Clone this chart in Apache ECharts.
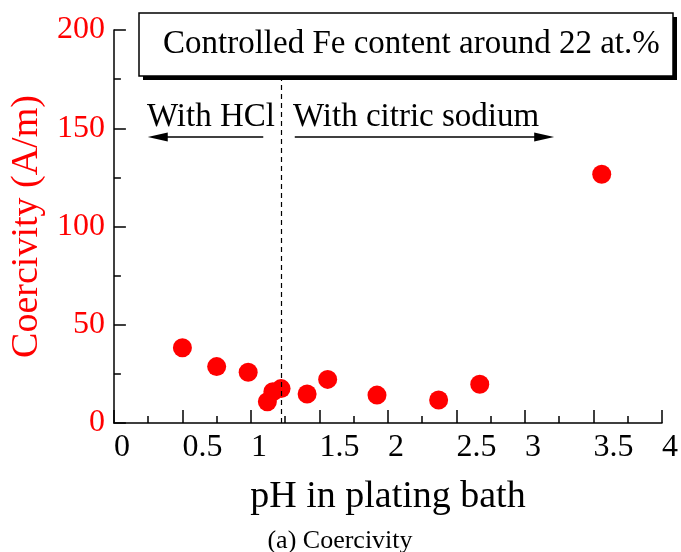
<!DOCTYPE html>
<html>
<head>
<meta charset="utf-8">
<script src="https://cdn.jsdelivr.net/npm/echarts@6/dist/echarts.min.js"></script>
<style>
  html, body { margin: 0; padding: 0; background: #fff; }
  #chart { width: 681px; height: 552px; }
</style>
</head>
<body>
<div id="chart"></div>
<script>
// pH 値と保磁力
const phValues = [0.5, 0.75, 0.98, 1.12, 1.16, 1.22, 1.41, 1.56, 1.92, 2.37, 2.67, 3.56]
const coercivity = [38.3, 28.7, 25.8, 10.8, 15.9, 17.5, 14.8, 22.2, 14.2, 11.7, 19.7, 126.6]

const xTicks = [0, 0.5, 1, 1.5, 2, 2.5, 3, 3.5, 4]
const yTicks = [0, 50, 100, 150, 200]

// 区切り線と矢印 (データ座標)
const boundaryPH = 1.22
const arrowY = 145.5
const hclArrow = [1.09, 0.32]
const citricArrow = [1.32, 3.14]

const serif = "Liberation Serif"

const chart = echarts.init(document.getElementById("chart"))

function label(text, x, y, size, extra) {
  return {
    type: "text",
    z: 12,
    x: x,
    y: y,
    style: Object.assign({
      text: text,
      fontFamily: serif,
      fontSize: size,
      fill: "#000",
      verticalAlign: "middle"
    }, extra || {})
  }
}

const option = {
  animation: false,
  grid: {
    left: 111,
    right: 18,
    top: 30,
    bottom: 129
  },
  xAxis: {
    type: "value",
    min: 0,
    max: 4,
    interval: 0.5,
    name: "pH in plating bath",
    nameLocation: "middle",
    nameGap: 55,
    nameTextStyle: { fontFamily: serif, fontSize: 38, color: "#000" },
    axisLine: { lineStyle: { color: "#000", width: 1.5 } },
    axisTick: { inside: true, length: 13, lineStyle: { color: "#000", width: 1.5 } },
    minorTick: { show: true, splitNumber: 2, length: 7, lineStyle: { color: "#000", width: 1.5 } },
    axisLabel: {
      fontFamily: serif,
      fontSize: 32,
      color: "#000",
      align: "left",
      margin: 9,
      formatter: v => (xTicks.includes(v) ? String(v) : "")
    },
    splitLine: { show: false }
  },
  yAxis: {
    type: "value",
    min: 0,
    max: 200,
    interval: 50,
    name: "Coercivity (A/m)",
    nameLocation: "middle",
    nameGap: 62,
    nameTextStyle: { fontFamily: serif, fontSize: 38, color: "#ff0000" },
    axisLine: { show: true, lineStyle: { color: "#000", width: 1.5 } },
    axisTick: { inside: true, length: 12, lineStyle: { color: "#000", width: 1.5 } },
    minorTick: { show: true, splitNumber: 2, length: 7, lineStyle: { color: "#000", width: 1.5 } },
    axisLabel: {
      fontFamily: serif,
      fontSize: 32,
      color: "#ff0000",
      margin: 9,
      formatter: v => (yTicks.includes(v) ? String(v) : "")
    },
    splitLine: { show: false }
  },
  series: [
    {
      type: "scatter",
      data: phValues.map((x, i) => [x, coercivity[i]]),
      symbol: "circle",
      symbolSize: 19,
      itemStyle: { color: "#ff0000", opacity: 1 },
      z: 3
    },
    {
      // 区切り線と矢印
      type: "line",
      data: [],
      markLine: {
        silent: true,
        animation: false,
        label: { show: false },
        lineStyle: { color: "#000", width: 1.5, type: "solid" },
        data: [
          [
            { coord: [boundaryPH, 0], symbol: "none", lineStyle: { type: [5, 4], width: 1.2 } },
            { coord: [boundaryPH, 200], symbol: "none" }
          ],
          [
            { coord: [hclArrow[0], arrowY], symbol: "none" },
            { coord: [hclArrow[1], arrowY], symbol: "triangle", symbolSize: [9, 20] }
          ],
          [
            { coord: [citricArrow[0], arrowY], symbol: "none" },
            { coord: [citricArrow[1], arrowY], symbol: "triangle", symbolSize: [9, 20] }
          ]
        ]
      }
    }
  ],
  graphic: [
    // テキストボックスの影
    {
      type: "rect",
      z: 10,
      shape: { x: 143, y: 17, width: 534, height: 63 },
      style: { fill: "#000" }
    },
    {
      type: "rect",
      z: 11,
      shape: { x: 139, y: 13, width: 534, height: 63 },
      style: { fill: "#fff", stroke: "#000", lineWidth: 1.5 }
    },
    label("Controlled Fe content around 22 at.%", 163, 44, 33),
    label("With HCl", 147, 117, 33),
    label("With citric sodium", 293, 117, 33),
    label("(a) Coercivity", 340, 541, 26, { align: "center" })
  ]
}

chart.setOption(option)
</script>
</body>
</html>
